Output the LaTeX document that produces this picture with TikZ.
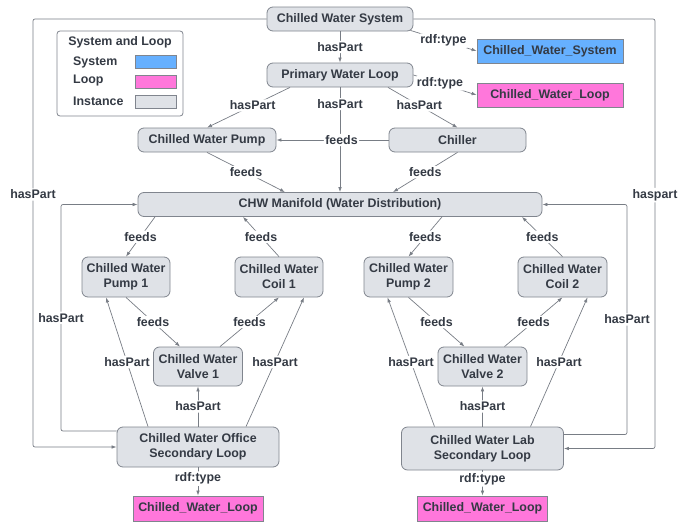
\documentclass[tikz,border=0pt]{standalone}
\usepackage{fontspec}
\setmainfont{Liberation Sans}
\usetikzlibrary{arrows.meta}
\definecolor{instfill}{RGB}{223,226,231}
\definecolor{instdraw}{RGB}{128,133,142}
\definecolor{sysblue}{RGB}{102,176,255}
\definecolor{looppink}{RGB}{255,119,219}
\definecolor{txtgray}{RGB}{52,58,68}
\definecolor{linegray}{RGB}{120,125,133}

\begin{document}
\begin{tikzpicture}[x=1pt, y=-1pt,
	every node/.style={font=\fontsize{12.4}{15}\selectfont\bfseries, text=txtgray, inner sep=0pt, align=center},
	inst/.style={draw=instdraw, fill=instfill, rounded corners=6pt, line width=0.8pt},
	cls/.style={draw=instdraw, line width=0.8pt, minimum width=146, minimum height=24},
	swatch/.style={draw=instdraw, line width=0.8pt, minimum width=41, minimum height=13},
	lbl/.style={fill=white, inner sep=1.5pt},
	edge/.style={draw=linegray, line width=0.7pt, -{Latex[length=5pt,width=3.6pt]}, rounded corners=2pt}]
		\useasboundingbox (0,0) rectangle (678,522);
		
		% Legenda
		\node (legend) at (120,73.5) [draw=instdraw, fill=white, rounded corners=3pt, line width=0.8pt, minimum width=126, minimum height=85] {};
		\node (legtitle) at (120,42) {System and Loop};
		\node (legsys) at (73,62) [anchor=west] {System};
		\node (legloop) at (73,81) [anchor=west] {Loop};
		\node (leginst) at (73,101) [anchor=west] {Instance};
		\node (swsys) at (155.5,61.5) [swatch, fill=sysblue] {};
		\node (swloop) at (155.5,82) [swatch, fill=looppink] {};
		\node (swinst) at (155.5,102) [swatch, fill=instfill] {};
		
		% Simpul bagian atas
		\node (cws) at (340,19) [inst, minimum width=146, minimum height=24] {Chilled Water System};
		\node (pwl) at (340,75) [inst, minimum width=146, minimum height=24] {Primary Water Loop};
		\node (sys) at (550,51) [cls, fill=sysblue] {Chilled\_Water\_System};
		\node (loop) at (550,95) [cls, fill=looppink] {Chilled\_Water\_Loop};
		\node (pump) at (207,140) [inst, minimum width=138, minimum height=24] {Chilled Water Pump};
		\node (chiller) at (457.5,140) [inst, minimum width=137, minimum height=24] {Chiller};
		\node (mani) at (340,204.5) [inst, minimum width=404, minimum height=24] {CHW Manifold (Water Distribution)};
		
		% Simpul loop sekunder
		\node (pump1) at (126,277) [inst, minimum width=88, minimum height=40] {Chilled Water\\Pump 1};
		\node (coil1) at (279,277) [inst, minimum width=88, minimum height=40] {Chilled Water\\Coil 1};
		\node (pump2) at (408.5,277) [inst, minimum width=89, minimum height=40] {Chilled Water\\Pump 2};
		\node (coil2) at (562.5,277) [inst, minimum width=89, minimum height=40] {Chilled Water\\Coil 2};
		\node (valve1) at (198,366.5) [inst, minimum width=89, minimum height=39] {Chilled Water\\Valve 1};
		\node (valve2) at (482.5,366.5) [inst, minimum width=89, minimum height=39] {Chilled Water\\Valve 2};
		\node (office) at (198,447) [inst, minimum width=162, minimum height=40] {Chilled Water Office\\Secondary Loop};
		\node (lab) at (482.5,448.5) [inst, minimum width=162, minimum height=43] {Chilled Water Lab\\Secondary Loop};
		\node (loopa) at (198,508.5) [cls, fill=looppink, minimum width=130, minimum height=25] {Chilled\_Water\_Loop};
		\node (loopb) at (482.5,508.5) [cls, fill=looppink, minimum width=130, minimum height=25] {Chilled\_Water\_Loop};
		
		% Koneksi bagian atas
		\draw[edge] (cws.south) -- node[lbl] {hasPart} (pwl.north);
		\draw[edge] ([xshift=-3pt,yshift=1pt]cws.south east) -- node[lbl] {rdf:type} (sys.west);
		\draw[edge] (pwl.east) -- node[lbl, pos=0.42] {rdf:type} (loop.west);
		\draw[edge] ([xshift=-50pt]pwl.south) -- node[lbl, pos=0.45] {hasPart} (pump.north);
		\draw[edge] ([xshift=48pt]pwl.south) -- node[lbl, pos=0.45] {hasPart} (chiller.north);
		\draw[edge] (pwl.south) -- node[lbl, pos=0.16] {hasPart} (mani.north);
		\draw[edge] (chiller.west) -- node[lbl, pos=0.42] {feeds} (pump.east);
		\draw[edge] (pump.south) -- node[lbl] {feeds} ([xshift=-55pt]mani.north);
		\draw[edge] (chiller.south) -- node[lbl] {feeds} ([xshift=53pt]mani.north);
		
		% Koneksi manifold dan komponen
		\draw[edge] ([xshift=-185pt]mani.south) -- node[lbl] {feeds} (pump1.north);
		\draw[edge] (coil1.north) -- node[lbl] {feeds} ([xshift=-97pt]mani.south);
		\draw[edge] ([xshift=102pt]mani.south) -- node[lbl] {feeds} (pump2.north);
		\draw[edge] (coil2.north) -- node[lbl] {feeds} ([xshift=182pt]mani.south);
		\draw[edge] (pump1.south) -- node[lbl] {feeds} ([xshift=-18pt]valve1.north);
		\draw[edge] ([xshift=22pt]valve1.north) -- node[lbl] {feeds} (coil1.south);
		\draw[edge] (pump2.south) -- node[lbl] {feeds} ([xshift=-18pt]valve2.north);
		\draw[edge] ([xshift=22pt]valve2.north) -- node[lbl] {feeds} (coil2.south);
		
		% Koneksi loop sekunder
		\draw[edge] ([xshift=-50pt]office.north) -- node[lbl] {hasPart} ([xshift=-20pt]pump1.south);
		\draw[edge] ([xshift=48pt]office.north) -- node[lbl] {hasPart} ([xshift=25pt]coil1.south);
		\draw[edge] (office.north) -- node[lbl] {hasPart} (valve1.south);
		\draw[edge] ([xshift=-48pt]lab.north) -- node[lbl] {hasPart} ([xshift=-21pt]pump2.south);
		\draw[edge] ([xshift=48pt]lab.north) -- node[lbl] {hasPart} ([xshift=25pt]coil2.south);
		\draw[edge] (lab.north) -- node[lbl] {hasPart} (valve2.south);
		\draw[edge] (office.south) -- node[lbl, pos=0.4] {rdf:type} (loopa.north);
		\draw[edge] (lab.south) -- node[lbl, pos=0.35] {rdf:type} (loopb.north);
		
		% Koneksi siku di tepi
		\draw[edge] (cws.west) -- (33,19) -- node[lbl, pos=0.41] {hasPart} (33,447) -- (office.west);
		\draw[edge] (cws.east) -- (655,19) -- node[lbl, pos=0.41] {haspart} (655,448.5) -- (lab.east);
		\draw[edge] ([yshift=16pt]office.west) -- (61,431) -- node[lbl] {hasPart} (61,204.5) -- (mani.west);
		\draw[edge] ([yshift=14pt]lab.east) -- (627,434.5) -- node[lbl] {hasPart} (627,204.5) -- (mani.east);
		
	\end{tikzpicture}
\end{document}
